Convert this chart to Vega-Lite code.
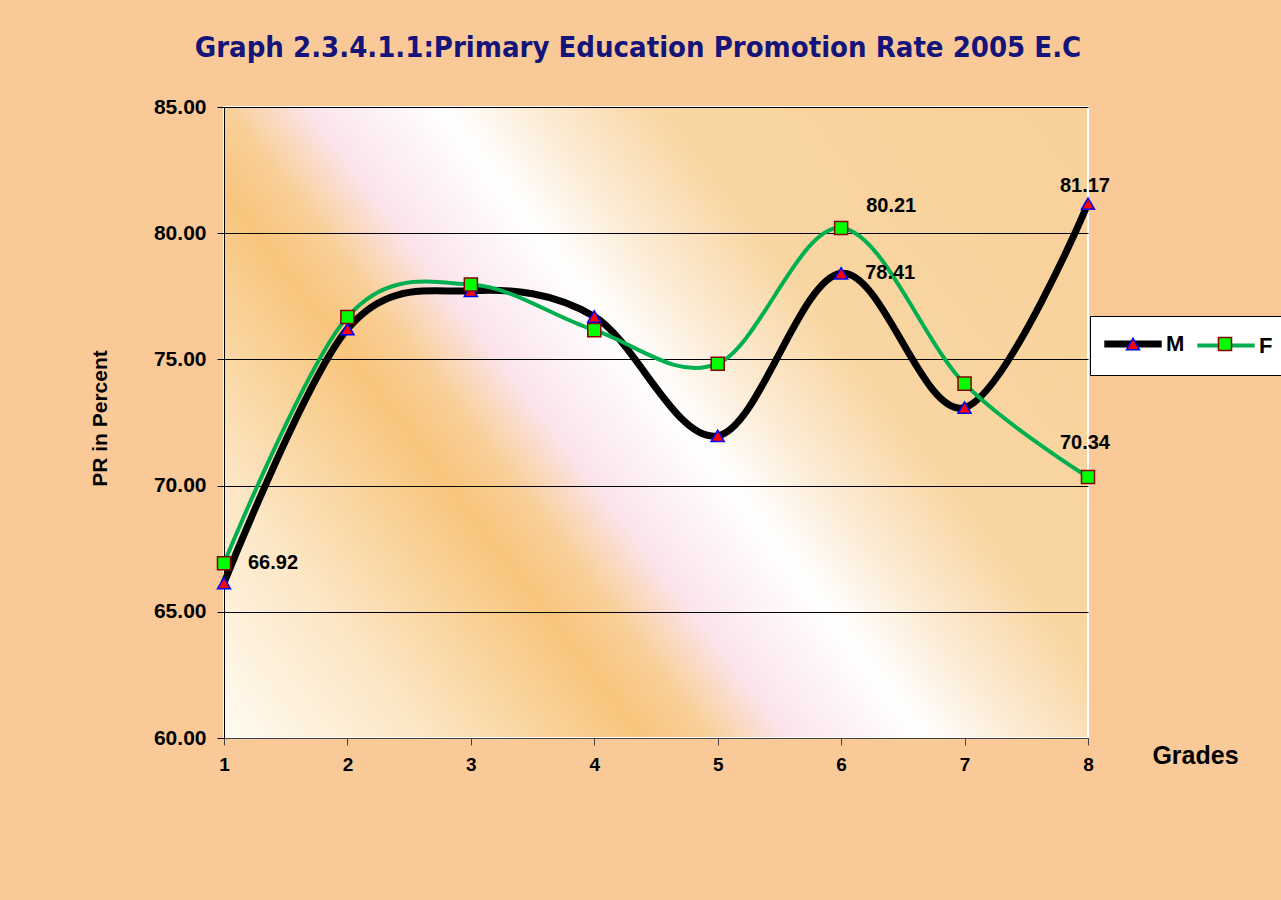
{
  "$schema": "https://vega.github.io/schema/vega-lite/v6.json",
  "width": 864,
  "height": 631,
  "autosize": {"type": "none"},
  "padding": {"left": 224, "top": 107, "right": 193, "bottom": 162},
  "background": "#F9CA98",
  "config": {"font": "Liberation Sans"},
  "view": {
    "fill": {
      "gradient": "linear",
      "x1": 0, "y1": 1, "x2": 1.19, "y2": 0.335,
      "stops": [
        {"offset": 0, "color": "#FFFBF2"},
        {"offset": 0.15, "color": "#FCE6C4"},
        {"offset": 0.31, "color": "#F8C57C"},
        {"offset": 0.36, "color": "#F9CF98"},
        {"offset": 0.42, "color": "#FBE4EC"},
        {"offset": 0.52, "color": "#FFFFFF"},
        {"offset": 0.59, "color": "#FCEBD4"},
        {"offset": 0.68, "color": "#F9D6A2"},
        {"offset": 1, "color": "#F8D09A"}
      ]
    },
    "stroke": "#FFFFFF",
    "strokeWidth": 2
  },
  "title": {
    "text": "Graph  2.3.4.1.1:Primary Education Promotion Rate 2005 E.C",
    "font": "DejaVu Sans Condensed",
    "fontSize": 29,
    "fontWeight": "bold",
    "color": "#14147A",
    "anchor": "middle",
    "baseline": "alphabetic",
    "dx": -18,
    "offset": 10
  },
  "data": {
    "values": [
      {"grade": 1, "series": "M", "value": 66.14},
      {"grade": 2, "series": "M", "value": 76.2},
      {"grade": 3, "series": "M", "value": 77.72},
      {"grade": 4, "series": "M", "value": 76.7},
      {"grade": 5, "series": "M", "value": 71.97},
      {"grade": 6, "series": "M", "value": 78.41},
      {"grade": 7, "series": "M", "value": 73.09},
      {"grade": 8, "series": "M", "value": 81.17},
      {"grade": 1, "series": "F", "value": 66.92},
      {"grade": 2, "series": "F", "value": 76.68},
      {"grade": 3, "series": "F", "value": 77.97},
      {"grade": 4, "series": "F", "value": 76.16},
      {"grade": 5, "series": "F", "value": 74.83},
      {"grade": 6, "series": "F", "value": 80.21},
      {"grade": 7, "series": "F", "value": 74.04},
      {"grade": 8, "series": "F", "value": 70.34}
    ]
  },
  "encoding": {
    "x": {
      "field": "grade",
      "type": "quantitative",
      "scale": {"domain": [1, 8], "nice": false, "zero": false},
      "axis": {
        "title": "Grades",
        "values": [1, 2, 3, 4, 5, 6, 7, 8],
        "format": "d",
        "grid": false,
        "labelFlush": false,
        "labelFontSize": 19,
        "labelFontWeight": "bold",
        "labelColor": "#000000",
        "labelPadding": 10,
        "tickSize": 7,
        "tickColor": "#444444",
        "domainColor": "#444444",
        "titleFontSize": 25,
        "titleFontWeight": "bold",
        "titleColor": "#000000",
        "titleX": 971,
        "titleY": 17,
        "titleAlign": "center",
        "titleBaseline": "middle"
      }
    },
    "y": {
      "field": "value",
      "type": "quantitative",
      "scale": {"domain": [60, 85], "nice": false, "zero": false},
      "axis": {
        "title": "PR in Percent",
        "values": [60, 65, 70, 75, 80, 85],
        "format": ".2f",
        "grid": true,
        "gridColor": "#000000",
        "gridWidth": 1,
        "labelFlush": false,
        "labelFontSize": 21,
        "labelFontWeight": "bold",
        "labelColor": "#000000",
        "labelPadding": 11,
        "tickSize": 7,
        "tickColor": "#000000",
        "domainColor": "#000000",
        "titleFontSize": 21,
        "titleFontWeight": "bold",
        "titleColor": "#000000",
        "titleX": -124,
        "titleY": 311,
        "titleAlign": "center",
        "titleBaseline": "middle"
      }
    }
  },
  "layer": [
    {
      "mark": {"type": "line", "interpolate": "cardinal", "strokeCap": "round", "strokeJoin": "round"},
      "encoding": {
        "color": {
          "field": "series",
          "type": "nominal",
          "scale": {"domain": ["M", "F"], "range": ["#000000", "#00B050"]},
          "legend": {
            "title": null,
            "orient": "none",
            "legendX": 866,
            "legendY": 209,
            "direction": "horizontal",
            "fillColor": "#FFFFFF",
            "strokeColor": "#000000",
            "padding": 17,
            "symbolType": "M-4.1,0H4.1",
            "symbolSize": 196,
            "symbolOffset": 15,
            "labelFontSize": 22,
            "labelFontWeight": "bold",
            "labelColor": "#000000",
            "labelOffset": 22,
            "columnPadding": 4
          }
        },
        "strokeWidth": {
          "field": "series",
          "type": "nominal",
          "scale": {"type": "ordinal", "domain": ["M", "F"], "range": [7, 4]},
          "legend": {
            "title": null,
            "orient": "none",
            "legendX": 866,
            "legendY": 209,
            "direction": "horizontal",
            "fillColor": "#FFFFFF",
            "strokeColor": "#000000",
            "padding": 17,
            "symbolType": "M-4.1,0H4.1",
            "symbolSize": 196,
            "symbolOffset": 15,
            "labelFontSize": 22,
            "labelFontWeight": "bold",
            "labelColor": "#000000",
            "labelOffset": 22,
            "columnPadding": 4
          }
        }
      }
    },
    {
      "mark": {"type": "point", "filled": true, "size": 170, "strokeWidth": 1.5, "opacity": 1},
      "encoding": {
        "shape": {
          "field": "series",
          "type": "nominal",
          "scale": {"range": ["square", "triangle-up"]},
          "legend": {
            "title": null,
            "values": ["M", "F"],
            "orient": "none",
            "legendX": 866,
            "legendY": 209,
            "direction": "horizontal",
            "padding": 17,
            "symbolSize": 170,
            "symbolStrokeWidth": 1.5,
            "symbolOffset": 15,
            "labelFontSize": 22,
            "labelFontWeight": "bold",
            "labelOpacity": 0,
            "labelOffset": 22,
            "columnPadding": 14
          }
        },
        "fill": {
          "field": "series",
          "type": "nominal",
          "scale": {"range": ["#00FF00", "#FF0000"]},
          "legend": {
            "title": null,
            "values": ["M", "F"],
            "orient": "none",
            "legendX": 866,
            "legendY": 209,
            "direction": "horizontal",
            "padding": 17,
            "symbolSize": 170,
            "symbolStrokeWidth": 1.5,
            "symbolOffset": 15,
            "labelFontSize": 22,
            "labelFontWeight": "bold",
            "labelOpacity": 0,
            "labelOffset": 22,
            "columnPadding": 14
          }
        },
        "stroke": {
          "field": "series",
          "type": "nominal",
          "scale": {"range": ["#8B0000", "#0000FF"]},
          "legend": {
            "title": null,
            "values": ["M", "F"],
            "orient": "none",
            "legendX": 866,
            "legendY": 209,
            "direction": "horizontal",
            "padding": 17,
            "symbolSize": 170,
            "symbolStrokeWidth": 1.5,
            "symbolOffset": 15,
            "labelFontSize": 22,
            "labelFontWeight": "bold",
            "labelOpacity": 0,
            "labelOffset": 22,
            "columnPadding": 14
          }
        }
      }
    },
    {
      "transform": [{"filter": "(datum.series == 'F' && datum.grade == 1) || (datum.series == 'M' && datum.grade == 6)"}],
      "mark": {"type": "text", "align": "left", "baseline": "middle", "dx": 24, "fontSize": 20, "fontWeight": "bold", "color": "#000000"},
      "encoding": {"text": {"field": "value", "type": "quantitative", "format": ".2f"}}
    },
    {
      "transform": [{"filter": "datum.series == 'F' && datum.grade == 6"}],
      "mark": {"type": "text", "align": "left", "baseline": "middle", "dx": 25, "dy": -22, "fontSize": 20, "fontWeight": "bold", "color": "#000000"},
      "encoding": {"text": {"field": "value", "type": "quantitative", "format": ".2f"}}
    },
    {
      "transform": [{"filter": "datum.series == 'M' && datum.grade == 8"}],
      "mark": {"type": "text", "align": "right", "baseline": "middle", "dx": 22, "dy": -18, "fontSize": 20, "fontWeight": "bold", "color": "#000000"},
      "encoding": {"text": {"field": "value", "type": "quantitative", "format": ".2f"}}
    },
    {
      "transform": [{"filter": "datum.series == 'F' && datum.grade == 8"}],
      "mark": {"type": "text", "align": "right", "baseline": "middle", "dx": 22, "dy": -34, "fontSize": 20, "fontWeight": "bold", "color": "#000000"},
      "encoding": {"text": {"field": "value", "type": "quantitative", "format": ".2f"}}
    }
  ]
}
